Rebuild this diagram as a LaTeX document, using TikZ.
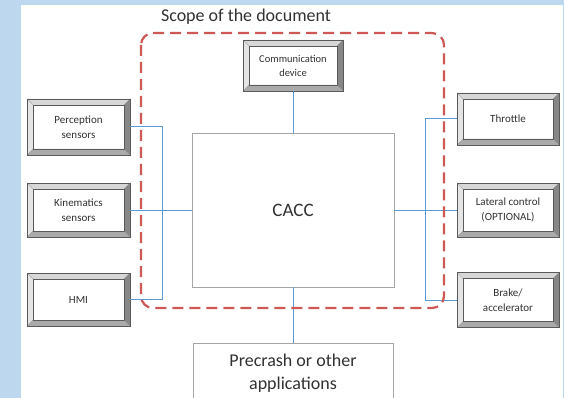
\documentclass[tikz,border=0pt]{standalone}
\usepackage{fontspec}
\setmainfont{Carlito}
\usetikzlibrary{calc}
\definecolor{bgblue}{RGB}{189,215,238}
\definecolor{conblue}{RGB}{91,155,213}
\definecolor{scopered}{RGB}{205,88,86}
\definecolor{bevline}{RGB}{90,90,90}
\definecolor{bevtop}{RGB}{215,215,215}
\definecolor{bevleft}{RGB}{228,228,228}
\definecolor{bevright}{RGB}{135,135,135}
\definecolor{bevbot}{RGB}{170,170,170}
\definecolor{plainline}{RGB}{165,165,165}
\definecolor{txt}{RGB}{50,50,50}
\tikzset{
  bevbox/.style={rectangle, draw=bevline, line width=0.5pt, fill=white, inner sep=0pt,
    align=center, text=txt, font=\fontsize{11}{15}\selectfont,
    path picture={
      \def\bw{6pt}
      \path (path picture bounding box.north west) coordinate (pA)
            (path picture bounding box.north east) coordinate (pB)
            (path picture bounding box.south east) coordinate (pC)
            (path picture bounding box.south west) coordinate (pD);
      \coordinate (qA) at ($(pA)+(\bw,-\bw)$);
      \coordinate (qB) at ($(pB)+(-\bw,-\bw)$);
      \coordinate (qC) at ($(pC)+(-\bw,\bw)$);
      \coordinate (qD) at ($(pD)+(\bw,\bw)$);
      \fill[bevtop] (pA) -- (pB) -- (qB) -- (qA) -- cycle;
      \fill[bevleft] (pA) -- (qA) -- (qD) -- (pD) -- cycle;
      \fill[bevright] (pB) -- (pC) -- (qC) -- (qB) -- cycle;
      \fill[bevbot] (pD) -- (qD) -- (qC) -- (pC) -- cycle;
      \draw[bevline, line width=0.4pt] (qA) rectangle (qC);
      \draw[gray, line width=0.3pt] (pA) -- (qA) (pB) -- (qB) (pC) -- (qC) (pD) -- (qD);
    }},
  plainbox/.style={rectangle, draw=plainline, line width=0.8pt, fill=white, inner sep=0pt,
    align=center, text=txt},
  conn/.style={draw=conblue, line width=1pt},
  scope/.style={draw=scopered, line width=2.2pt, dash pattern=on 11pt off 6pt, rounded corners=12pt}
}
\begin{document}
\begin{tikzpicture}[x=1pt,y=-1pt]
\useasboundingbox (0,0) rectangle (564,398);
\fill[bgblue] (0,0) rectangle (564,398);
\fill[white] (21,5) rectangle (562.5,400);

% title
\node[text=txt, font=\fontsize{18}{22}\selectfont, anchor=base] (title) at (246,22) {Scope of the document};

% nodes
\node[bevbox, minimum width=100pt, minimum height=51pt, font=\fontsize{10.5}{14}\selectfont] (comm) at (293,65.5) {Communication\\device};
\node[plainbox, minimum width=202pt, minimum height=154pt, font=\fontsize{19}{23}\selectfont] (cacc) at (293,210) {CACC};
\node[plainbox, minimum width=200pt, minimum height=60pt, font=\fontsize{18}{23}\selectfont, anchor=north] (pre) at (293,343) {Precrash or other\\applications};

\node[bevbox, minimum width=103pt, minimum height=56pt] (perc) at (78.5,127) {Perception\\sensors};
\node[bevbox, minimum width=103pt, minimum height=54pt] (kin) at (78.5,210) {Kinematics\\sensors};
\node[bevbox, minimum width=103pt, minimum height=53pt] (hmi) at (78.5,299.5) {HMI};

\node[bevbox, minimum width=102pt, minimum height=52pt] (thr) at (508,119) {Throttle};
\node[bevbox, minimum width=102pt, minimum height=54pt] (lat) at (508,210) {Lateral control\\(OPTIONAL)};
\node[bevbox, minimum width=102pt, minimum height=55pt] (brk) at (508,300) {Brake/\\accelerator};

% bus coordinates
\coordinate (lbus) at (162,0);
\coordinate (rbus) at (425,0);

% connectors
\draw[conn] (perc.east) -| (lbus |- hmi.east) -- (hmi.east);
\draw[conn] (kin.east) -- (cacc.west);
\draw[conn] (thr.west) -| (rbus |- brk.west) -- (brk.west);
\draw[conn] (cacc.east) -- (lat.west);
\draw[conn] (comm.south) -- (cacc.north);
\draw[conn] (cacc.south) -- (pre.north);

% scope
\draw[scope] (141,33) rectangle (444,308);
\end{tikzpicture}
\end{document}
